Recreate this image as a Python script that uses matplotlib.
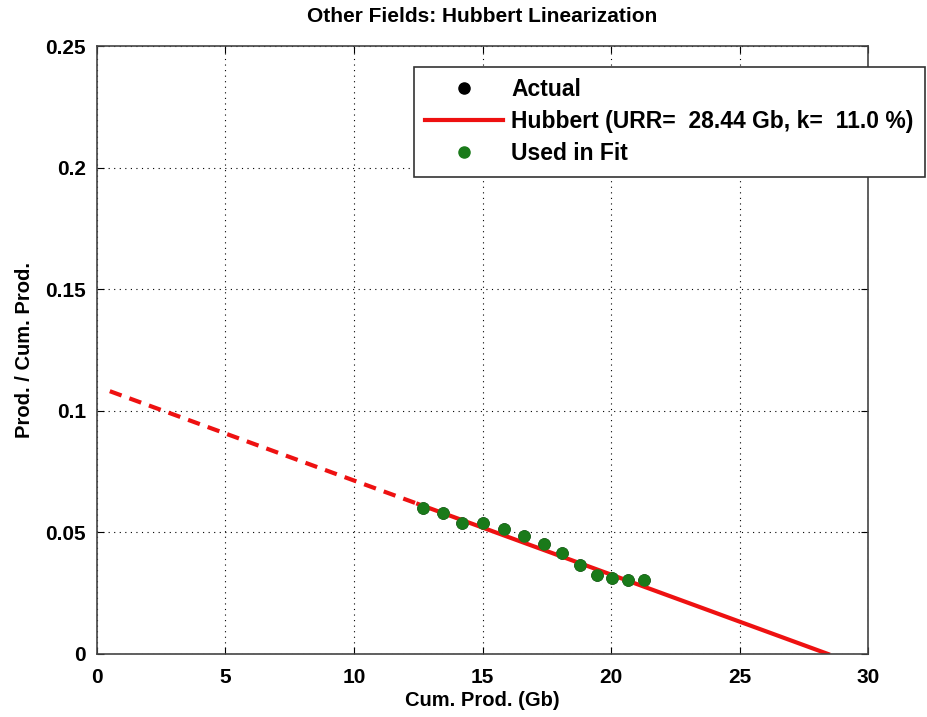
import numpy as np
import matplotlib.pyplot as plt

plt.rcParams['font.family'] = ['Liberation Sans', 'DejaVu Sans']
plt.rcParams['font.weight'] = 'bold'

# Cumulative production (Gb) and production / cumulative production
cum_prod = [12.67, 13.47, 14.19, 15.03, 15.84, 16.61, 17.39, 18.11, 18.79,
            19.44, 20.02, 20.67, 21.28]
ratio = [0.0599, 0.0578, 0.0540, 0.0537, 0.0513, 0.0485, 0.0452, 0.0414,
         0.0366, 0.0325, 0.0314, 0.0304, 0.0304]

urr = 28.44
k = 0.110
fit_start = 12.5
dash_start = 0.5

fig = plt.figure(figsize=(9.27, 7.17), dpi=100)
ax = fig.add_axes([0.1046, 0.0879, 0.8318, 0.8479])

q_dash = np.array([dash_start, fit_start])
q_solid = np.array([fit_start, urr])
ax.plot(q_dash, k * (1 - q_dash / urr), color='#ee1111', lw=3, ls=(0, (3, 2)))
ax.plot(cum_prod, ratio, 'o', color='black', ms=8, label='Actual')
ax.plot(q_solid, k * (1 - q_solid / urr), color='#ee1111', lw=3,
        label='Hubbert (URR=  %.2f Gb, k=  %.1f %%)' % (urr, k * 100))
ax.plot(cum_prod, ratio, 'o', color='#1a7a1a', ms=8, label='Used in Fit')

ax.set_xlim(0, 30)
ax.set_ylim(0, 0.25)
ax.set_xticks([0, 5, 10, 15, 20, 25, 30])
ax.set_yticks([0, 0.05, 0.1, 0.15, 0.2, 0.25])
ax.set_yticklabels(['0', '0.05', '0.1', '0.15', '0.2', '0.25'])
ax.tick_params(labelsize=15, direction='in', length=5, top=True, right=True)
ax.tick_params(axis='x', pad=10)
ax.tick_params(axis='y', pad=8)
ax.grid(True, color='black', ls=(0, (1, 4)), lw=0.8)
for s in ax.spines.values():
    s.set_color('#444444')
    s.set_linewidth(1.2)

ax.set_xlabel('Cum. Prod. (Gb)', fontsize=14.5, fontweight='bold', labelpad=3)
ax.set_ylabel('Prod. / Cum. Prod.', fontsize=14.5, fontweight='bold', labelpad=8)
ax.set_title('Other Fields: Hubbert Linearization', fontsize=15, fontweight='bold',
             pad=17)

leg = ax.legend(loc='upper right', bbox_to_anchor=(0.998, 0.907),
                bbox_transform=fig.transFigure, fontsize=16.5, fancybox=False,
                framealpha=1, edgecolor='#333333', borderaxespad=0,
                handlelength=3.4, handletextpad=0.35, borderpad=0.5,
                labelspacing=0.4)
leg.get_frame().set_linewidth(1.2)

fig.savefig('out.png', dpi=100)
